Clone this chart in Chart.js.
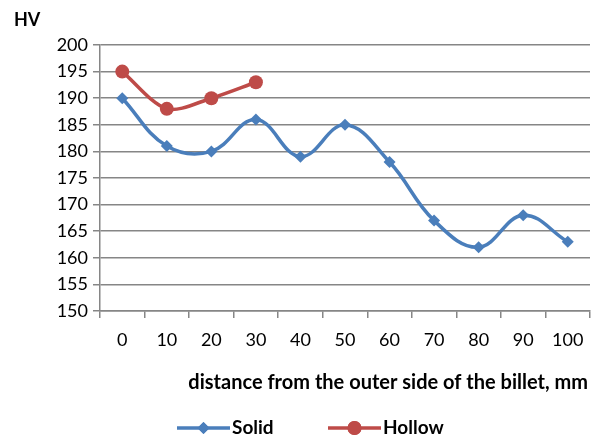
<!DOCTYPE html>
<html>
<head>
<meta charset="utf-8">
<script src="https://cdn.jsdelivr.net/npm/chart.js@4"></script>
<style>
  html, body { margin: 0; padding: 0; background: #fff; }
  #wrap { width: 597px; height: 437px; position: relative; }
</style>
</head>
<body>
<div id="wrap"><canvas id="hvChart"></canvas></div>
<script>
// distances (mm) and hardness values
const distances = ['0', '10', '20', '30', '40', '50', '60', '70', '80', '90', '100'];
const solidHV = [190, 181, 180, 186, 179, 185, 178, 167, 162, 168, 163];
const hollowHV = [195, 188, 190, 193];

const FONT = 'Lato, "Open Sans", sans-serif';
const BLUE = '#4a7ebb';
const RED = '#be4b48';

// extra texts: HV label, x title, legend
const extras = {
    id: 'extras',
    afterDraw(chart) {
        const c = chart.ctx;
        c.save();
        c.fillStyle = '#000';
        c.font = 'bold 18px ' + FONT;
        c.textBaseline = 'middle';
        c.textAlign = 'left';
        c.fillText('HV', 14, 20);
        c.font = 'bold 20px ' + FONT;
        c.textAlign = 'right';
        c.fillText('distance from the outer side of the billet, mm', 588, 383);

        c.font = 'bold 19px ' + FONT;
        const items = [
            { label: 'Solid', color: BLUE, x: 177, style: 'rectRot', r: 6 },
            { label: 'Hollow', color: RED, x: 328, style: 'circle', r: 7 }
        ];
        const ly = 428;
        items.forEach(it => {
            c.strokeStyle = it.color;
            c.lineWidth = 3.5;
            c.beginPath();
            c.moveTo(it.x, ly);
            c.lineTo(it.x + 53, ly);
            c.stroke();
            c.fillStyle = it.color;
            Chart.helpers.drawPoint(c, { pointStyle: it.style, radius: it.r, borderWidth: 0 }, it.x + 26.5, ly);
            c.fill();
            c.fillStyle = '#000';
            c.textAlign = 'left';
            c.fillText(it.label, it.x + 55, ly);
        });
        c.restore();
    }
};

const ctx = document.getElementById('hvChart').getContext('2d');
const hvChart = new Chart(ctx, {
    type: 'line',
    data: {
        labels: distances,
        datasets: [{
            label: 'Solid',
            data: solidHV,
            borderColor: BLUE,
            backgroundColor: BLUE,
            borderWidth: 3.5,
            pointStyle: 'rectRot',
            pointRadius: 6,
            pointBorderWidth: 0,
            tension: 0.4
        }, {
            label: 'Hollow',
            data: hollowHV,
            borderColor: RED,
            backgroundColor: RED,
            borderWidth: 3.5,
            pointStyle: 'circle',
            pointRadius: 7,
            pointBorderWidth: 0,
            tension: 0.3
        }]
    },
    options: {
        responsive: true,
        maintainAspectRatio: false,
        animation: false,
        layout: { padding: { top: 45, right: 7, left: 0, bottom: 0 } },
        plugins: {
            legend: { display: false },
            tooltip: { enabled: false }
        },
        scales: {
            x: {
                offset: true,
                grid: {
                    offset: true,
                    drawOnChartArea: false,
                    color: '#868686',
                    lineWidth: 1.5,
                    tickLength: 7
                },
                border: { color: '#868686', width: 1.5 },
                ticks: { color: '#000', font: { family: FONT, size: 18 }, padding: 11, maxRotation: 0 },
                afterFit(s) { s.height = 126; }
            },
            y: {
                min: 150,
                max: 200,
                grid: { color: '#868686', lineWidth: 1.5, tickLength: 7 },
                border: { color: '#868686', width: 1.5 },
                ticks: { stepSize: 5, color: '#000', font: { family: FONT, size: 18 }, padding: 5 },
                afterFit(s) { s.width = 100; }
            }
        }
    },
    plugins: [extras]
});
</script>
</body>
</html>
